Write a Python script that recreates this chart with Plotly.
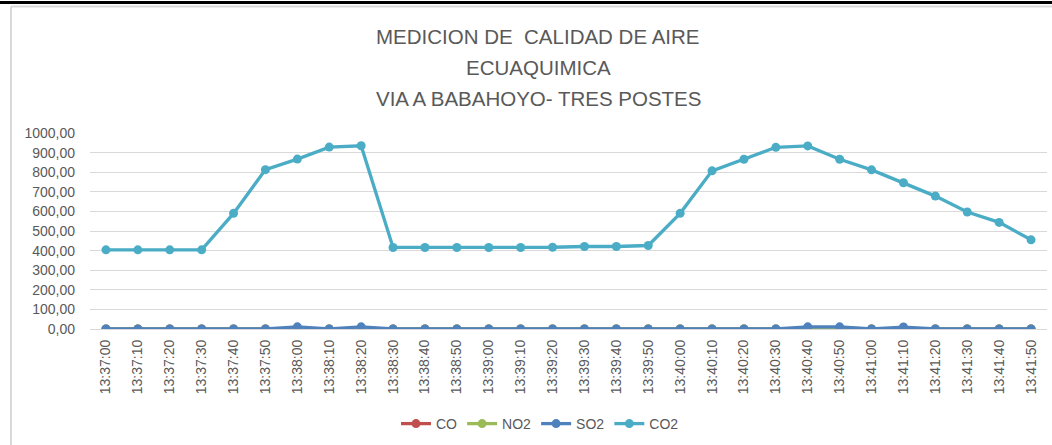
import plotly.graph_objects as go

times = ["13:37:00","13:37:10","13:37:20","13:37:30","13:37:40","13:37:50",
         "13:38:00","13:38:10","13:38:20","13:38:30","13:38:40","13:38:50",
         "13:39:00","13:39:10","13:39:20","13:39:30","13:39:40","13:39:50",
         "13:40:00","13:40:10","13:40:20","13:40:30","13:40:40","13:40:50",
         "13:41:00","13:41:10","13:41:20","13:41:30","13:41:40","13:41:50"]

co = [0,0,0,0,0,0,0,0,0,0,0,0,0,0,0,0,0,0,0,0,0,0,0,0,0,0,0,0,0,0]
no2 = [0,0,0,0,0,0,0,0,0,0,0,0,0,0,0,0,0,0,0,0,0,0,0,5,0,0,0,0,0,0]
so2 = [0,0,0,0,0,0,11,0,11,0,0,0,0,0,0,0,0,0,0,0,0,0,11,11,0,10,0,0,0,0]
co2 = [404,404,404,404,590,813,867,928,935,416,416,416,416,416,417,421,421,426,
       590,807,866,927,934,866,812,746,678,597,544,455]

series = [("CO", co, "#c0504d"), ("NO2", no2, "#9bbb59"),
          ("SO2", so2, "#4f81bd"), ("CO2", co2, "#4bacc6")]

fig = go.Figure()
for name, vals, col in series:
    fig.add_trace(go.Scatter(x=times, y=vals, name=name, mode="lines+markers",
                             line=dict(color=col, width=3.3),
                             marker=dict(color=col, size=9)))

W, H = 1052, 445
L, R, T, B = 90, 5, 133, 116
pw, ph = W - L - R, H - T - B

def px(x):
    return (x - L) / pw

def py(y):
    return (H - B - y) / ph

title_lines = ["MEDICION DE  CALIDAD DE AIRE", "ECUAQUIMICA", "VIA A BABAHOYO- TRES POSTES"]
title_y = [37, 68, 98]
annotations = []
for t, yy in zip(title_lines, title_y):
    annotations.append(dict(text=t, x=px(538), y=py(yy), xref="paper", yref="paper",
                            xanchor="center", yanchor="middle", showarrow=False,
                            font=dict(family="Liberation Sans, Arial", size=20.5, color="#595959")))

shapes = [
    dict(type="line", xref="paper", yref="paper", x0=px(0), x1=px(W), y0=py(2.5), y1=py(2.5),
         line=dict(color="black", width=3)),
    dict(type="line", xref="paper", yref="paper", x0=px(11), x1=px(W), y0=py(6.5), y1=py(6.5),
         line=dict(color="#d9d9d9", width=2)),
    dict(type="line", xref="paper", yref="paper", x0=px(11), x1=px(11), y0=py(6.5), y1=py(H),
         line=dict(color="#d9d9d9", width=2)),
]

fig.update_layout(
    width=W, height=H,
    margin=dict(l=L, r=R, t=T, b=B, autoexpand=False),
    paper_bgcolor="white", plot_bgcolor="white",
    separators=", ",
    font=dict(family="Liberation Sans, Arial", color="#595959", size=13),
    annotations=annotations, shapes=shapes,
    legend=dict(orientation="h", x=px(540), xanchor="center", y=py(424), yanchor="middle",
                font=dict(size=14, color="#595959"), itemwidth=30),
    xaxis=dict(type="category", range=[-0.5, 29.5], tickangle=-90, showgrid=False,
               showline=False, zeroline=False, ticks="", ticklabelstandoff=7,
               tickfont=dict(size=14, color="#595959")),
    yaxis=dict(range=[0, 1000], dtick=100, tickformat=".2f", showgrid=True,
               gridcolor="#d9d9d9", gridwidth=1, zeroline=True, zerolinecolor="#d9d9d9",
               zerolinewidth=1, showline=False, ticks="", ticklabelstandoff=14,
               tickfont=dict(size=14, color="#595959")),
)

fig.write_html("out.html", config={"displayModeBar": False},
               post_script="document.body.style.margin='0';document.body.style.padding='0';")
